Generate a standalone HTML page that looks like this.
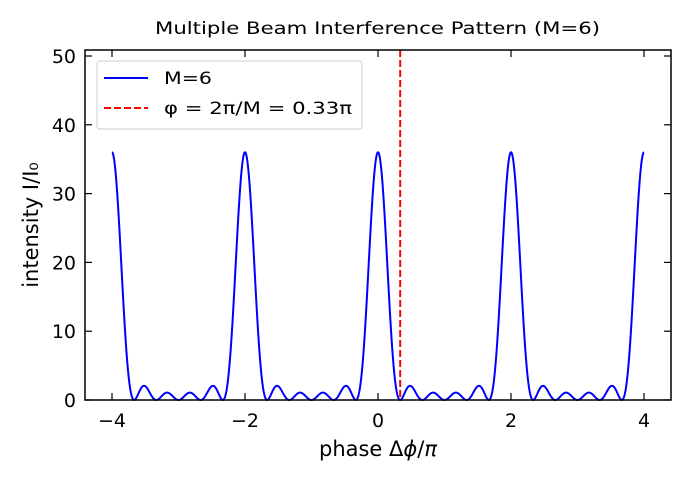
<!DOCTYPE html>
<html><head><meta charset="utf-8"><style>
body{margin:0;background:#fff;}
svg{display:block;font-family:"DejaVu Sans","Liberation Sans",sans-serif;}
</style></head><body>
<svg id="s" width="690" height="482" viewBox="0 0 690 482">
<rect width="690" height="482" fill="#fff"/>
<text x="155" y="34" font-size="17" textLength="445" lengthAdjust="spacingAndGlyphs">Multiple Beam Interference Pattern (M=6)</text>
<g id="ticks" stroke="#000" stroke-width="1.2"></g>
<g id="labels" font-size="19" text-anchor="middle"></g>
<path id="curve" fill="none" stroke="#0000ff" stroke-width="2"/>
<line x1="400.2" y1="50" x2="400.2" y2="400" stroke="#ff0000" stroke-width="2" stroke-dasharray="7,3"/>
<rect x="85" y="50" width="586" height="350" fill="none" stroke="#000" stroke-width="1.5"/>
<rect x="97" y="61" width="265" height="68" rx="3" fill="#fff" fill-opacity="0.8" stroke="#ccc" stroke-width="1"/>
<line x1="104" y1="78" x2="148" y2="78" stroke="#0000ff" stroke-width="2"/>
<text x="164" y="84" font-size="17" textLength="48" lengthAdjust="spacingAndGlyphs">M=6</text>
<line x1="104" y1="108" x2="148" y2="108" stroke="#ff0000" stroke-width="2" stroke-dasharray="7,3"/>
<text x="164" y="114" font-size="17" textLength="188" lengthAdjust="spacingAndGlyphs">φ = 2π/M = 0.33π</text>
<text x="378" y="456" font-size="21" text-anchor="middle">phase Δ<tspan font-style="italic">ϕ</tspan>/<tspan font-style="italic">π</tspan></text>
<text transform="translate(38,225) rotate(-90)" font-size="21" text-anchor="middle">intensity I/I₀</text>
</svg>
<script>
var X=function(x){return 378+x*66.5},Y=function(y){return 400-y*6.88};
var d="";for(var i=0;i<=4000;i++){var x=-4+8*i/4000;var p=Math.PI*x;var s=Math.sin(p/2);var v;if(Math.abs(s)<1e-9)v=36;else{var r=Math.sin(3*p)/s;v=r*r;}d+=(i?"L":"M")+X(x).toFixed(2)+","+Y(v).toFixed(2);}
document.getElementById("curve").setAttribute("d",d);
var t="",l="";
[-4,-2,0,2,4].forEach(function(v){var x=X(v);t+='<line x1="'+x+'" y1="400" x2="'+x+'" y2="393"/><line x1="'+x+'" y1="50" x2="'+x+'" y2="57"/>';l+='<text x="'+x+'" y="427">'+(v<0?"−"+(-v):v)+'</text>';});
[0,10,20,30,40,50].forEach(function(v){var y=Y(v);t+='<line x1="85" y1="'+y+'" x2="92" y2="'+y+'"/><line x1="671" y1="'+y+'" x2="664" y2="'+y+'"/>';l+='<text x="76" y="'+(y+7)+'" text-anchor="end">'+v+'</text>';});
document.getElementById("ticks").innerHTML=t;document.getElementById("labels").innerHTML=l;
</script>
</body></html>
